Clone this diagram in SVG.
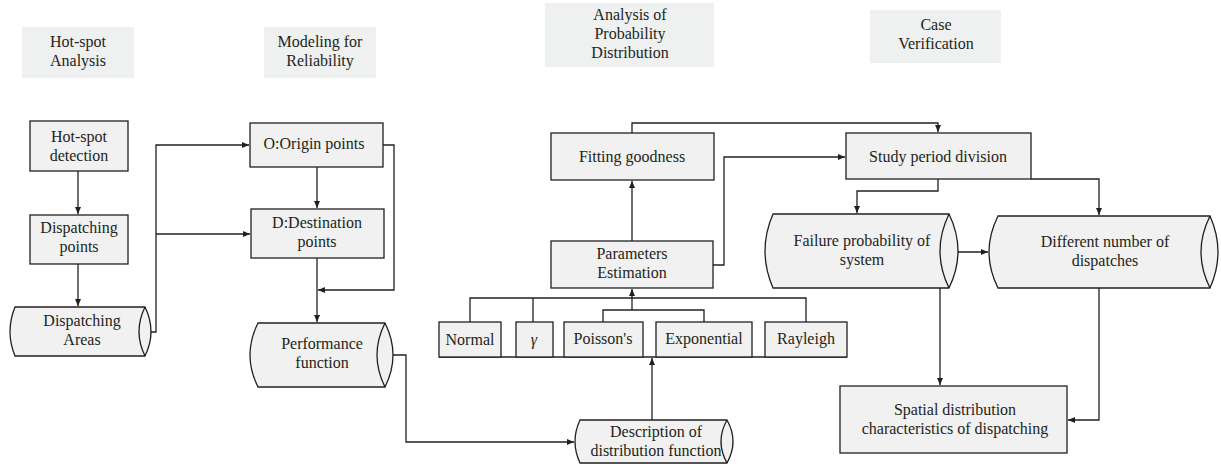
<svg xmlns="http://www.w3.org/2000/svg" width="1221" height="468" viewBox="0 0 1221 468">
<style>
text{font-family:'Liberation Serif','Times New Roman',serif;font-size:16px;fill:#231f20;text-anchor:middle}
.hdr{fill:#eff0f0;stroke:none}
.box{fill:#f0f1f0;stroke:#231f20;stroke-width:1.3}
.inner{fill:none;stroke:#231f20;stroke-width:1.3}
.c{fill:none;stroke:#231f20;stroke-width:1.3}
.a{marker-end:url(#ah)}
.b{marker-start:url(#ah);marker-end:url(#ah)}
</style>
<defs>
<marker id="ah" markerUnits="userSpaceOnUse" markerWidth="8" markerHeight="7" refX="7" refY="3.5" orient="auto-start-reverse">
<path d="M0,0.5 L7,3.5 L0,6.5 z" fill="#231f20"/>
</marker>
</defs>

<g id="hdr-hotspot"><rect class="hdr" x="22" y="27" width="112" height="51"/><text x="78" y="47">Hot-spot</text><text x="78" y="66">Analysis</text></g>
<g id="hdr-modeling"><rect class="hdr" x="264" y="27" width="112" height="51"/><text x="320" y="47">Modeling for</text><text x="320" y="66">Reliability</text></g>
<g id="hdr-analysis"><rect class="hdr" x="545" y="3" width="169" height="64"/><text x="630" y="20">Analysis of</text><text x="630" y="39">Probability</text><text x="630" y="58">Distribution</text></g>
<g id="hdr-case"><rect class="hdr" x="870" y="10" width="131" height="53"/><text x="936" y="30">Case</text><text x="936" y="49">Verification</text></g>

<g id="connectors">
<path class="c a" d="M78,171 V214"/>
<path class="c a" d="M78,264 V306"/>
<path class="c a" d="M145,332 H156 V145 H249"/>
<path class="c a" d="M156,234 H250"/>
<path class="c a" d="M383,145 H394 V290 H318"/>
<path class="c a" d="M317,167 V208"/>
<path class="c a" d="M317,258 V322"/>
<path class="c a" d="M393,355 H406 V442 H574"/>
<path class="c a" d="M652,420 V358"/>
<path class="c" d="M470,322 V298 H806 V322 M533,298 V322"/>
<path class="c" d="M603,322 V310 H704 V322"/>
<path class="c a" d="M632,310 V289"/>
<path class="c" d="M439,357 H847"/>
<path class="c a" d="M632,241 V181"/>
<path class="c a" d="M632,133 V123 H938 V132"/>
<path class="c a" d="M713,265 H724 V157 H845"/>
<path class="c a" d="M938,179 V191 H857 V213"/>
<path class="c a" d="M1031,179 H1099 V215"/>
<path class="c b" d="M950,252 H988"/>
<path class="c a" d="M940,288 V385"/>
<path class="c a" d="M1099,288 V420 H1068"/>
</g>

<g id="n-hotspot-detection"><rect class="box" x="30" y="121" width="98" height="50"/><text x="79" y="142">Hot-spot</text><text x="79" y="161">detection</text></g>
<g id="n-dispatching-points"><rect class="box" x="30" y="215" width="98" height="49"/><text x="79" y="233">Dispatching</text><text x="79" y="252">points</text></g>
<g id="n-dispatching-areas"><path class="box" d="M15,307 H145 Q157,331.5 145,356 H15 Q5,331.5 15,307 Z"/><path class="inner" d="M145,307 Q133,331.5 145,356"/><text x="82" y="326">Dispatching</text><text x="82" y="345">Areas</text></g>
<g id="n-origin"><rect class="box" x="250" y="123" width="133" height="44"/><text x="314" y="149">O:Origin points</text></g>
<g id="n-destination"><rect class="box" x="251" y="209" width="133" height="49"/><text x="317" y="228">D:Destination</text><text x="317" y="247">points</text></g>
<g id="n-performance"><path class="box" d="M258,323 H385 Q401,355 385,387 H258 Q242,355 258,323 Z"/><path class="inner" d="M385,323 Q369,355 385,387"/><text x="322" y="349">Performance</text><text x="322" y="368">function</text></g>
<g id="n-description"><path class="box" d="M580,420 H727 Q739,441.5 727,463 H580 Q570,441.5 580,420 Z"/><path class="inner" d="M727,420 Q715,441.5 727,463"/><text x="656" y="437">Description of</text><text x="656" y="456">distribution function</text></g>
<g id="n-normal"><rect class="box" x="439" y="322" width="62" height="35"/><text x="470" y="345">Normal</text></g>
<g id="n-gamma"><rect class="box" x="516" y="322" width="37" height="35"/><text x="534" y="345" font-style="italic">γ</text></g>
<g id="n-poisson"><rect class="box" x="564" y="322" width="79" height="35"/><text x="603" y="344">Poisson's</text></g>
<g id="n-exponential"><rect class="box" x="656" y="322" width="96" height="35"/><text x="704" y="344">Exponential</text></g>
<g id="n-rayleigh"><rect class="box" x="765" y="322" width="82" height="35"/><text x="806" y="344">Rayleigh</text></g>
<g id="n-parameters"><rect class="box" x="551" y="241" width="162" height="47"/><text x="632" y="259">Parameters</text><text x="632" y="278">Estimation</text></g>
<g id="n-fitting"><rect class="box" x="551" y="133" width="163" height="47"/><text x="632" y="162">Fitting goodness</text></g>
<g id="n-study"><rect class="box" x="846" y="133" width="185" height="46"/><text x="938" y="162">Study period division</text></g>
<g id="n-failure"><path class="box" d="M773,214 H949 Q967,251 949,288 H773 Q757,251 773,214 Z"/><path class="inner" d="M949,214 Q931,251 949,288"/><text x="862" y="246">Failure probability of</text><text x="862" y="265">system</text></g>
<g id="n-different"><path class="box" d="M998,216 H1210 Q1226,252 1210,288 H998 Q980,252 998,216 Z"/><path class="inner" d="M1210,216 Q1192,252 1210,288"/><text x="1105" y="247">Different number of</text><text x="1105" y="266">dispatches</text></g>
<g id="n-spatial"><rect class="box" x="840" y="386" width="227" height="67"/><text x="955" y="415">Spatial distribution</text><text x="955" y="434">characteristics of dispatching</text></g>
</svg>
